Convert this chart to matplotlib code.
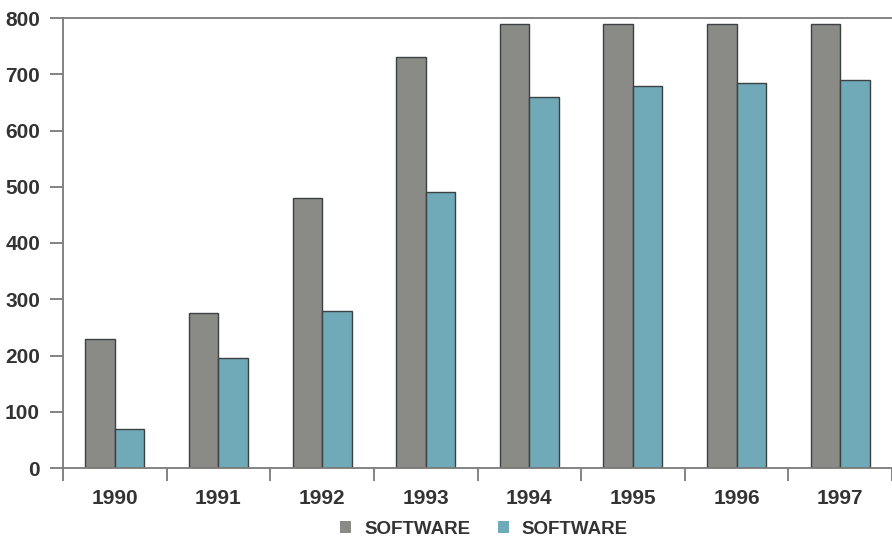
import matplotlib
matplotlib.use("Agg")
import numpy as np
import matplotlib.pyplot as plt

years = ["1990", "1991", "1992", "1993", "1994", "1995", "1996", "1997"]
grey_vals = [230, 275, 480, 730, 790, 790, 790, 790]
teal_vals = [70, 195, 280, 490, 660, 680, 685, 690]
legend_labels = ["SOFTWARE", "SOFTWARE"]

plt.rcParams["font.family"] = ["Liberation Sans", "DejaVu Sans"]
plt.rcParams["font.weight"] = "bold"

W, H = 892, 539
fig = plt.figure(figsize=(W / 100, H / 100), dpi=100)
ax = fig.add_axes([63 / W, (H - 468) / H, (892 - 63) / W, 450 / H])

x = np.arange(len(years))
bw = 0.285
ax.bar(x - bw / 2, grey_vals, bw, color="#8a8a87", edgecolor="#3c4244", linewidth=1.0,
       label=legend_labels[0], zorder=3)
ax.bar(x + bw / 2, teal_vals, bw, color="#70a9b7", edgecolor="#3c4244", linewidth=1.0,
       label=legend_labels[1], zorder=3)

ax.set_ylim(0, 800)
ax.set_xlim(-0.5, 7.5 - 13 / 105.3)
ax.set_yticks(range(0, 801, 100))

# boundary ticks between categories, year labels centred on groups
ax.set_xticks(np.arange(-0.5, 8, 1))
ax.set_xticklabels([])
ax.set_xticks(x, minor=True)
ax.set_xticklabels(years, minor=True)

axis_col = "#7a7a7a"
for side in ["left", "top", "bottom"]:
    ax.spines[side].set_color(axis_col)
    ax.spines[side].set_linewidth(1.3)
ax.spines["right"].set_visible(False)
ax.spines["bottom"].set_zorder(4)

ax.tick_params(axis="y", length=9.5, width=1.3, color=axis_col, pad=7,
               labelsize=15, labelcolor="#333333")
ax.tick_params(axis="x", which="major", length=9, width=1.3, color=axis_col)
ax.tick_params(axis="x", which="minor", length=0, pad=15,
               labelsize=15, labelcolor="#333333")

leg = fig.legend(loc="center", bbox_to_anchor=(484 / W, 1 - 529 / H), ncol=2,
                 frameon=False, fontsize=13.5, handlelength=0.6, handleheight=0.6,
                 handletextpad=0.7, columnspacing=1.45)
for t in leg.get_texts():
    t.set_color("#333333")
for h in leg.legend_handles:
    h.set_edgecolor("none")

fig.savefig("out.png", dpi=100)
